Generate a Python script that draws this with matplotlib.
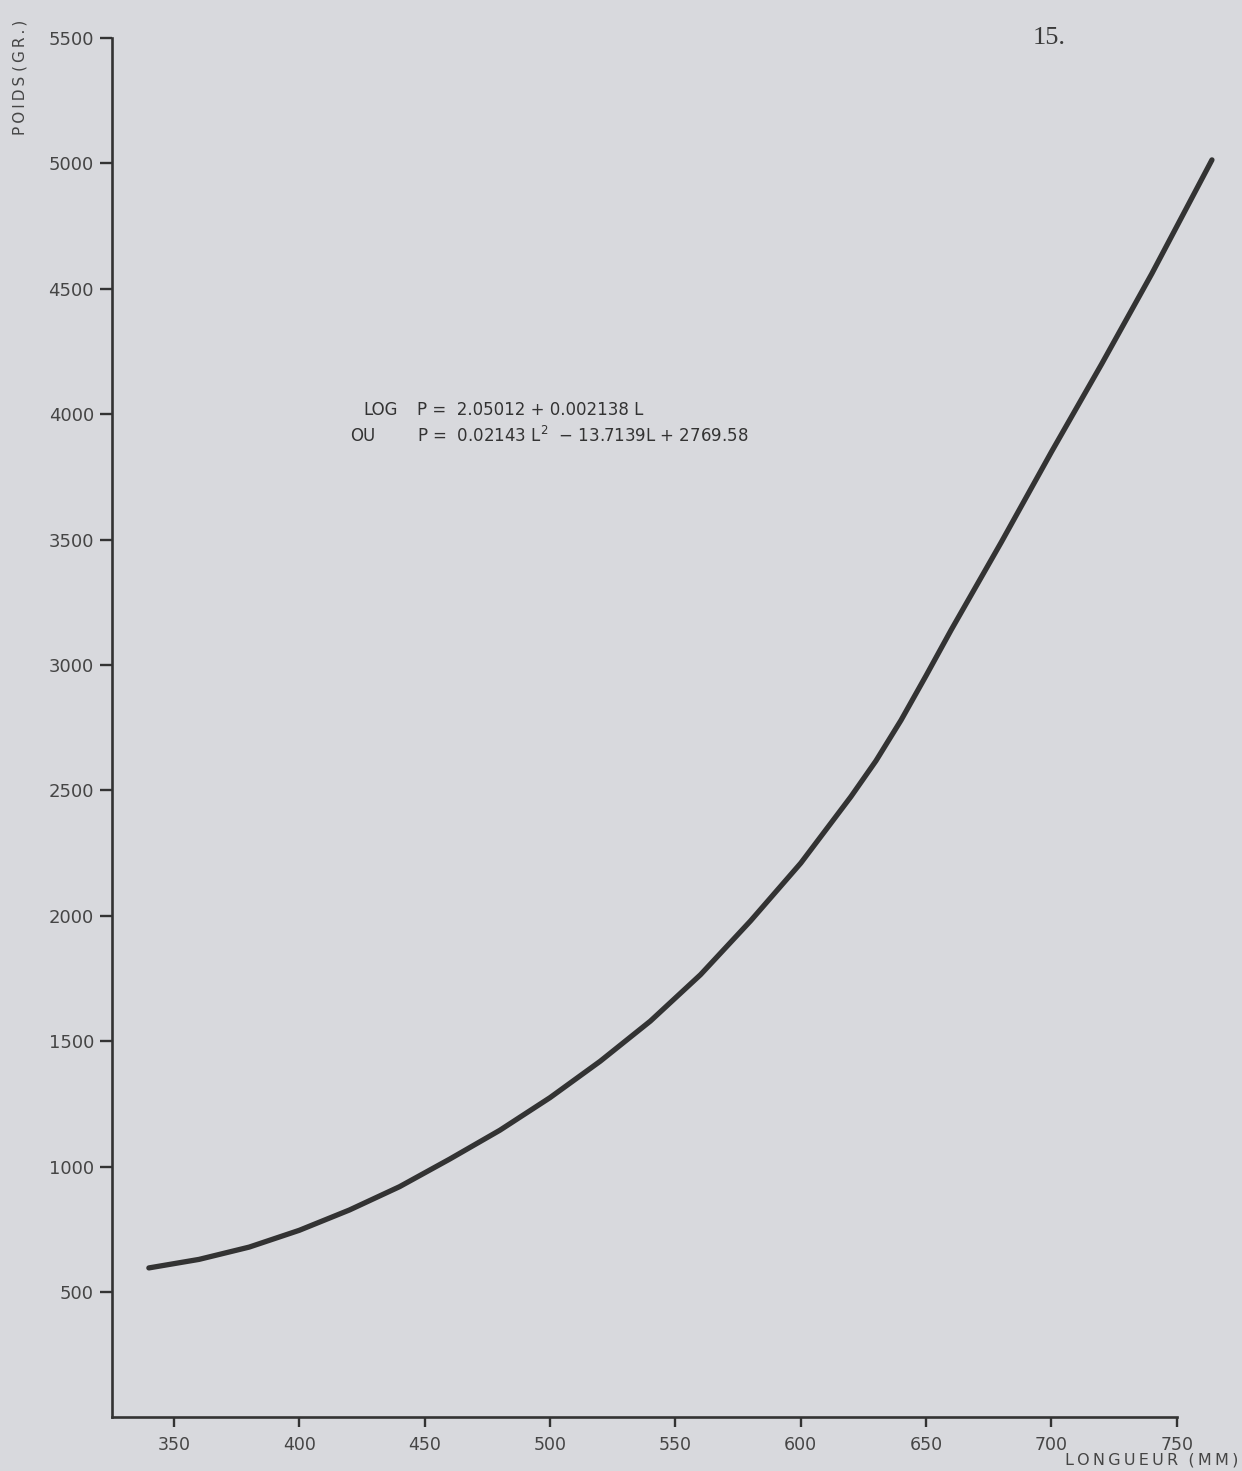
import matplotlib
matplotlib.use("Agg")
import matplotlib.pyplot as plt

# Length (mm) and weight (g)
longueur = [340, 360, 380, 400, 420, 440, 460, 480, 500, 520, 540, 560, 580,
            600, 620, 630, 640, 650, 660, 680, 700, 720, 740, 764]
poids = [596, 630, 679, 746, 827, 920, 1030, 1145, 1275, 1420, 1580, 1765, 1980,
         2210, 2475, 2618, 2780, 2958, 3140, 3490, 3850, 4200, 4560, 5014]

x_ticks = [350, 400, 450, 500, 550, 600, 650, 700, 750]
y_ticks = [500, 1000, 1500, 2000, 2500, 3000, 3500, 4000, 4500, 5000, 5500]

paper = "#d8d9dd"
ink = "#333333"
text_ink = "#454545"
THIN = "\u2009"

W, H = 1242, 1471
fig = plt.figure(figsize=(W / 100, H / 100), dpi=100, facecolor=paper)

# axes box in pixel terms: left edge at x=112, bottom at y=1417, top at y=38
ax = fig.add_axes([112 / W, (H - 1417.4) / H, 1115 / W, (1417.4 - 38) / H])
ax.set_facecolor(paper)
ax.set_xlim(325.3, 770)
ax.set_ylim(0, 5500)

ax.plot(longueur, poids, color=ink, lw=3.8, solid_capstyle="round",
        solid_joinstyle="round", clip_on=False)

for side in ("top", "right"):
    ax.spines[side].set_visible(False)
for side in ("left", "bottom"):
    ax.spines[side].set_color(ink)
    ax.spines[side].set_linewidth(1.9)
ax.spines["bottom"].set_bounds(325.3, 750)
ax.spines["left"].set_bounds(0, 5500)

ax.set_xticks(x_ticks)
ax.set_yticks(y_ticks)
ax.set_xticklabels([str(v) for v in x_ticks])
ax.set_yticklabels([str(v) for v in y_ticks])
ax.tick_params(axis="x", direction="out", length=7.5, width=1.7, color=ink,
               pad=6, labelsize=12.5, labelcolor=text_ink)
ax.tick_params(axis="y", direction="out", length=9, width=1.7, color=ink,
               pad=4, labelsize=13, labelcolor=text_ink)

# axis titles, letter-spaced
fig.text(1238 / W, (H - 1460) / H, THIN.join("LONGUEUR") + "  " + THIN.join("(MM)"),
         ha="right", va="center", fontsize=11.5, color=text_ink)
fig.text(20 / W, (H - 77) / H, THIN.join("POIDS") + " " + THIN.join("(GR.)"),
         ha="center", va="center", rotation=90, fontsize=11, color=text_ink)

# page number
fig.text(1049 / W, (H - 38) / H, "15.", ha="center", va="center",
         fontsize=19, family="Liberation Serif", color="#3a3a3a")

# regression equations
eq_size = 12
fig.text(363 / W, (H - 410) / H, "LOG", ha="left", va="center",
         fontsize=eq_size, color=ink)
fig.text(417 / W, (H - 410) / H, "P =  2.05012 + 0.002138 L", ha="left",
         va="center", fontsize=eq_size, color=ink)
fig.text(350 / W, (H - 436) / H, "OU", ha="left", va="center",
         fontsize=eq_size, color=ink)
fig.text(417 / W, (H - 436) / H, "P =  0.02143 L$^2$  \u2212 13.7139L + 2769.58",
         ha="left", va="center", fontsize=eq_size, color=ink)

fig.savefig("out.png", dpi=100, facecolor=paper)
